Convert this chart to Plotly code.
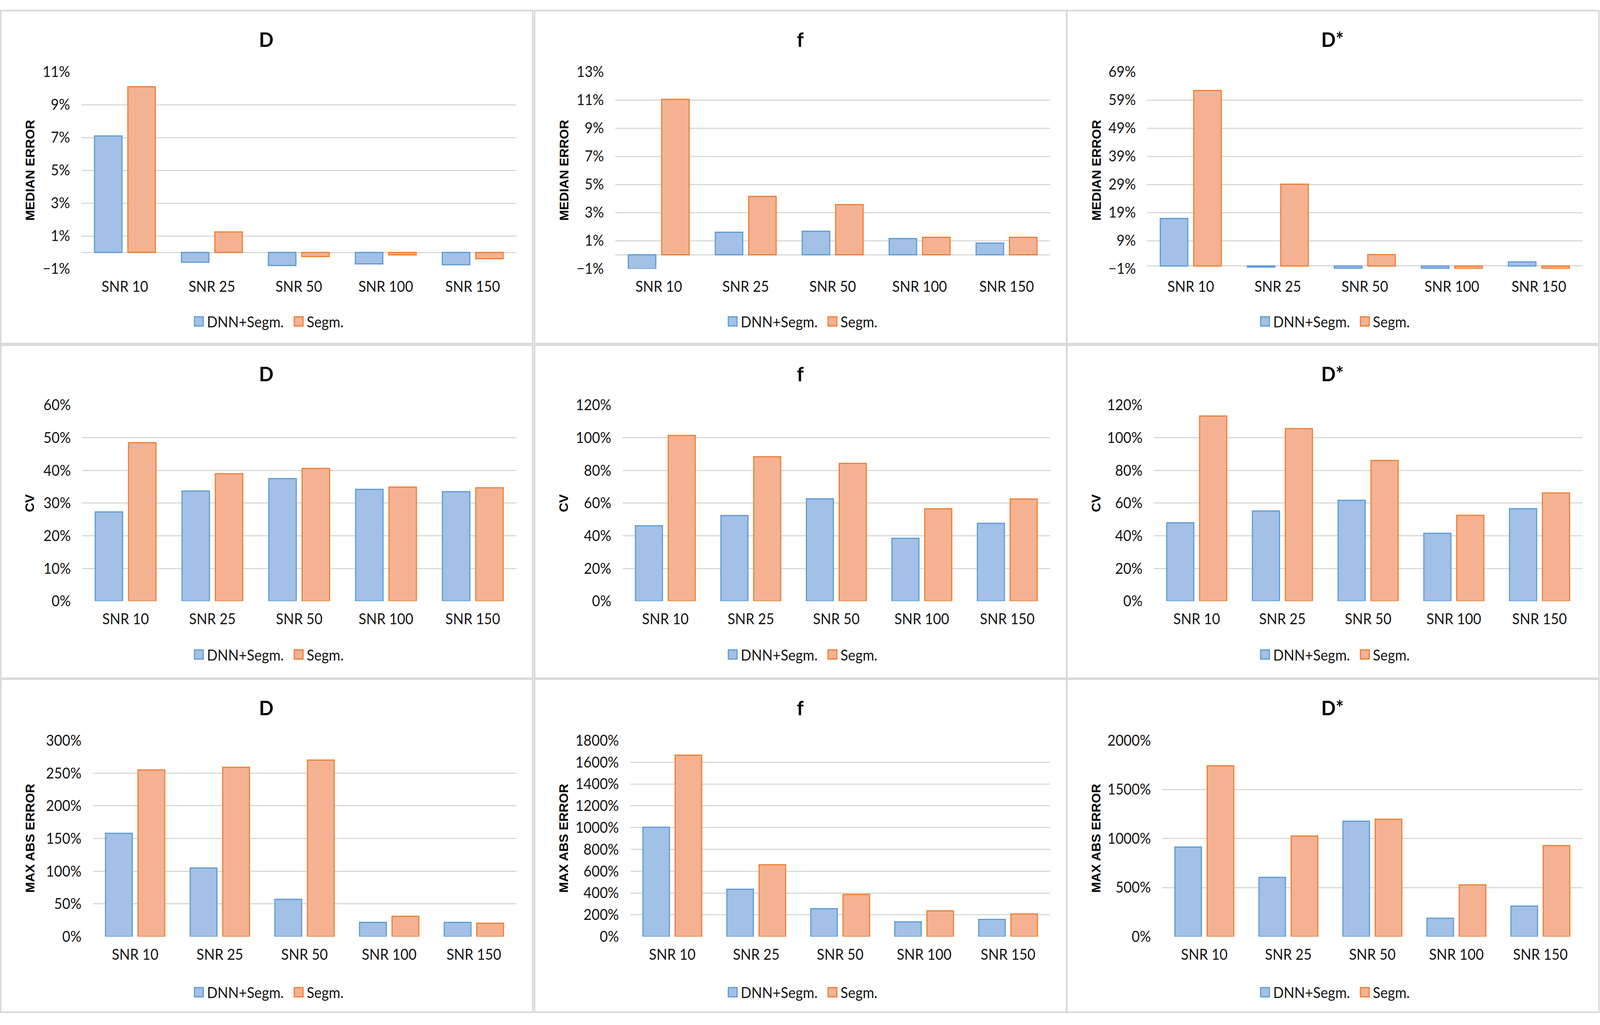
import plotly.graph_objects as go

# ---------------- data ----------------
categories = ["SNR 10", "SNR 25", "SNR 50", "SNR 100", "SNR 150"]
series_names = ["DNN+Segm.", "Segm."]
col_titles = ["D", "f", "D*"]
row_titles = ["MEDIAN ERROR", "CV", "MAX ABS ERROR"]

D_median_dnn = [7.1, -0.6, -0.8, -0.7, -0.75]
D_median_segm = [10.1, 1.25, -0.25, -0.15, -0.38]
f_median_dnn = [-1.0, 1.6, 1.67, 1.15, 0.83]
f_median_segm = [11.05, 4.15, 3.57, 1.24, 1.24]
Dstar_median_dnn = [16.9, -0.4, -0.8, -0.8, 1.45]
Dstar_median_segm = [62.4, 29.1, 4.05, -0.9, -0.9]

D_cv_dnn = [27.3, 33.7, 37.5, 34.2, 33.5]
D_cv_segm = [48.5, 39.0, 40.6, 34.9, 34.7]
f_cv_dnn = [46.1, 52.4, 62.6, 38.5, 47.6]
f_cv_segm = [101.4, 88.4, 84.3, 56.5, 62.5]
Dstar_cv_dnn = [48.0, 55.2, 61.7, 41.5, 56.6]
Dstar_cv_segm = [113.3, 105.6, 86.1, 52.5, 66.2]

D_max_dnn = [158, 105, 57, 21.7, 21.7]
D_max_segm = [255, 259, 270, 31, 20.4]
f_max_dnn = [1004, 434, 256, 135, 157]
f_max_segm = [1665, 659, 387, 236, 208]
Dstar_max_dnn = [913, 604, 1177, 187, 311]
Dstar_max_segm = [1742, 1025, 1197, 527, 928]

# (min, max, step) of each y axis
axis_ranges = [
    [(-1, 11, 2), (-1, 13, 2), (-1, 69, 10)],
    [(0, 60, 10), (0, 120, 20), (0, 120, 20)],
    [(0, 300, 50), (0, 1800, 200), (0, 2000, 500)],
]

panel_data = [
    [(D_median_dnn, D_median_segm), (f_median_dnn, f_median_segm), (Dstar_median_dnn, Dstar_median_segm)],
    [(D_cv_dnn, D_cv_segm), (f_cv_dnn, f_cv_segm), (Dstar_cv_dnn, Dstar_cv_segm)],
    [(D_max_dnn, D_max_segm), (f_max_dnn, f_max_segm), (Dstar_max_dnn, Dstar_max_segm)],
]

# ---------------- layout geometry (pixels) ----------------
W, H = 4361, 2624
col_x0 = [0, 1455, 2906]
row_y0 = [0, 872, 1742]
panel_w, panel_h = 1452, 870
plot_left = [[222, 222, 221], [224, 242, 239], [253, 263, 262]]
plot_right = 1407
plot_top = [162, 158, 162]
plot_bottom = [675, 669, 673]
title_y = 76
legend_y = [812, 808, 818]

fill_colors = ["#A3C0E6", "#F5B292"]
line_colors = ["#5B9BD5", "#ED7D31"]
grid_color = "#D9D9D9"
text_color = "#141414"
body_font = "Lato, Liberation Sans, sans-serif"
title_font = "Lato, Liberation Sans, sans-serif"
axis_title_font = "Liberation Sans, Arial, sans-serif"


def px(x):
    return x / W


def py(y):
    return 1 - y / H


fig = go.Figure()
shapes = []
annotations = []
layout_axes = {}

for r in range(3):
    for c in range(3):
        i = r * 3 + c
        xa = "x" if i == 0 else f"x{i + 1}"
        ya = "y" if i == 0 else f"y{i + 1}"
        X0, Y0 = col_x0[c], row_y0[r]
        dnn, segm = panel_data[r][c]
        for k, vals in enumerate((dnn, segm)):
            fig.add_trace(go.Bar(
                x=categories, y=vals, name=series_names[k],
                xaxis=xa, yaxis=ya, showlegend=False,
                marker=dict(color=fill_colors[k], line=dict(color=line_colors[k], width=3)),
            ))
        lo, hi, step = axis_ranges[r][c]
        xdom = [px(X0 + plot_left[r][c]), px(X0 + plot_right)]
        ydom = [py(Y0 + plot_bottom[r]), py(Y0 + plot_top[r])]
        xkey = "xaxis" if i == 0 else f"xaxis{i + 1}"
        ykey = "yaxis" if i == 0 else f"yaxis{i + 1}"
        layout_axes[xkey] = dict(
            domain=xdom, anchor=ya, type="category", showgrid=False, zeroline=False,
            showline=False, ticks="", tickfont=dict(family=body_font, size=38, color=text_color),
            ticklabelstandoff=20, fixedrange=True,
        )
        layout_axes[ykey] = dict(
            domain=ydom, anchor=xa, range=[lo, hi], tick0=lo, dtick=step,
            ticksuffix="%", showgrid=True, gridcolor=grid_color, gridwidth=3,
            zeroline=(lo < 0), zerolinecolor=grid_color, zerolinewidth=3,
            showline=False, ticks="", tickfont=dict(family=body_font, size=38, color=text_color),
            ticklabelstandoff=30, fixedrange=True,
        )
        # panel border
        shapes.append(dict(type="rect", xref="paper", yref="paper",
                           x0=px(X0 + 2), x1=px(X0 + panel_w), y0=py(Y0 + panel_h), y1=py(Y0 + 2),
                           line=dict(color=grid_color, width=4), fillcolor="rgba(0,0,0,0)", layer="below"))
        # panel title
        annotations.append(dict(text="<b>" + col_titles[c] + "</b>", xref="paper", yref="paper",
                                x=px(X0 + panel_w / 2), y=py(Y0 + title_y), xanchor="center", yanchor="middle",
                                showarrow=False, font=dict(family=title_font, size=52, color="#000000")))
        # y-axis title
        annotations.append(dict(text="<b>" + row_titles[r] + "</b>", xref="paper", yref="paper",
                                x=px(X0 + 82), y=py(Y0 + (plot_top[r] + plot_bottom[r]) / 2),
                                xanchor="center", yanchor="middle", textangle=-90, showarrow=False,
                                font=dict(family=axis_title_font, size=33, color="#000000")))
        # legend (swatches + labels)
        cx = X0 + panel_w / 2
        ly = Y0 + legend_y[r]
        sw_x = [cx - 196, cx + 76]
        tx_x = [cx - 164, cx + 108]
        for k in range(2):
            shapes.append(dict(type="rect", xref="paper", yref="paper",
                               x0=px(sw_x[k]), x1=px(sw_x[k] + 24), y0=py(ly + 12), y1=py(ly - 12),
                               line=dict(color=line_colors[k], width=3), fillcolor=fill_colors[k]))
            annotations.append(dict(text=series_names[k], xref="paper", yref="paper",
                                    x=px(tx_x[k]), y=py(ly), xanchor="left", yanchor="middle",
                                    showarrow=False, font=dict(family=body_font, size=38, color=text_color)))

fig.update_layout(
    width=W, height=H, margin=dict(l=0, r=0, t=0, b=0),
    paper_bgcolor="white", plot_bgcolor="white",
    barmode="group", bargap=0.232, bargroupgap=0.176,
    shapes=shapes, annotations=annotations, showlegend=False,
    **layout_axes,
)

fit_script = """
document.documentElement.style.margin='0';
document.body.style.margin='0';
document.body.style.overflow='hidden';
var gd=document.getElementById('{plot_id}');
var sx=window.innerWidth/4361, sy=window.innerHeight/2624;
if (Math.abs(sx-1)>0.002 || Math.abs(sy-1)>0.002) {
  gd.style.transformOrigin='0 0';
  gd.style.transform='scale('+sx+','+sy+')';
}
"""

fig.write_html("out.html", post_script=fit_script, config={"displayModeBar": False})
